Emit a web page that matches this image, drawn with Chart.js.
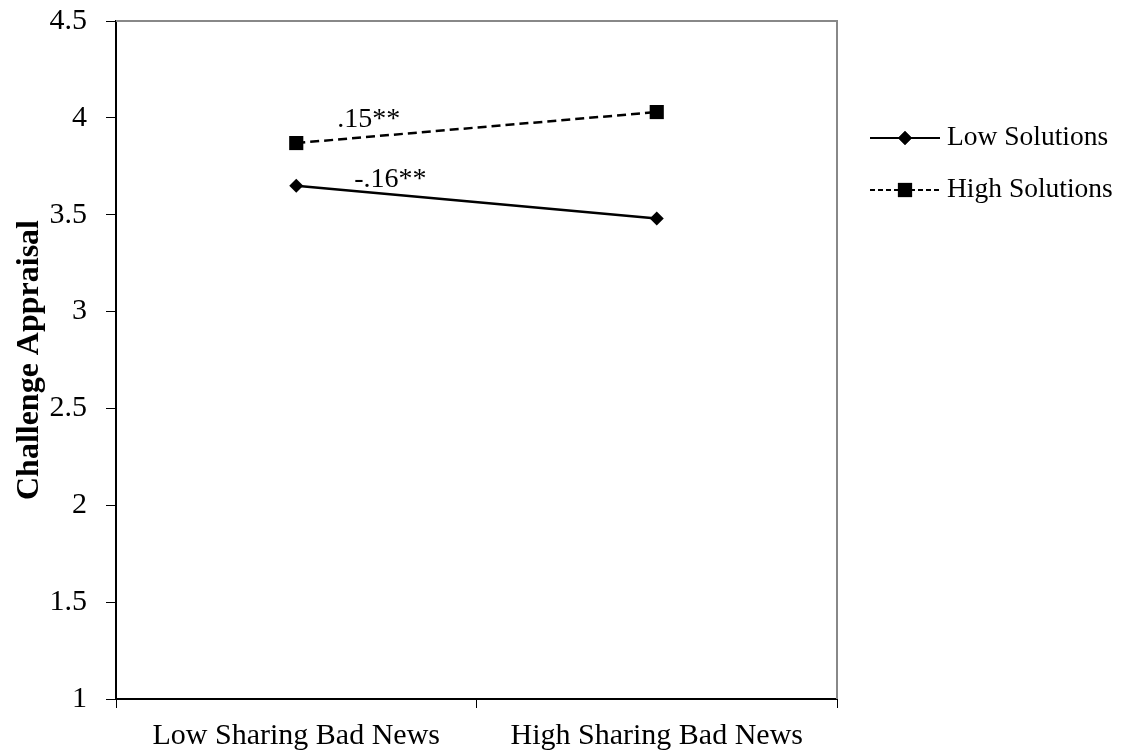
<!DOCTYPE html>
<html>
<head>
<meta charset="utf-8">
<script src="https://cdn.jsdelivr.net/npm/chart.js@4"></script>
<style>
  html, body { margin: 0; padding: 0; background: #fff; }
  #wrap { width: 1127px; height: 755px; position: relative; }
</style>
</head>
<body>
<div id="wrap"><canvas id="c" width="1127" height="755"></canvas></div>
<script>
// Simple-slopes plot: challenge appraisal by sharing bad news, split by solutions
const categories = ['Low Sharing Bad News', 'High Sharing Bad News'];
const lowSolutions = [3.65, 3.48];
const highSolutions = [3.87, 4.03];
const seriesNames = ['Low Solutions', 'High Solutions'];
const slopeLabels = ['-.16**', '.15**'];
const yTitle = 'Challenge Appraisal';

const SERIF = '"Liberation Serif", "DejaVu Serif", serif';

// slope annotations written just above each line, offset from its first point
const slopeText = {
  id: 'slopeText',
  afterDatasetsDraw(chart) {
    const ctx = chart.ctx;
    const offsets = [[58, 1], [41, -16]];
    ctx.save();
    ctx.font = '28px ' + SERIF;
    ctx.fillStyle = '#000';
    ctx.textBaseline = 'alphabetic';
    ctx.textAlign = 'left';
    chart.data.datasets.forEach((ds, i) => {
      const p0 = chart.getDatasetMeta(i).data[0];
      ctx.fillText(slopeLabels[i], p0.x + offsets[i][0], p0.y + offsets[i][1]);
    });
    ctx.restore();
  }
};

// grey frame on the top and right of the plot area
const frame = {
  id: 'frame',
  beforeDatasetsDraw(chart) {
    const a = chart.chartArea, ctx = chart.ctx;
    ctx.save();
    ctx.strokeStyle = '#888';
    ctx.lineWidth = 2;
    ctx.beginPath();
    ctx.moveTo(a.left, a.top);
    ctx.lineTo(a.right, a.top);
    ctx.lineTo(a.right, a.bottom);
    ctx.stroke();
    ctx.restore();
  }
};

// legend on the right: line sample with marker, then series name
const sideLegend = {
  id: 'sideLegend',
  afterDraw(chart) {
    const ctx = chart.ctx;
    const a = chart.chartArea;
    const x0 = a.right + 33, x1 = x0 + 70, xm = (x0 + x1) / 2;
    const rows = [138, 190];
    const dashes = [[], [5, 3]];
    ctx.save();
    chart.data.datasets.forEach((ds, i) => {
      const y = rows[i];
      ctx.strokeStyle = '#000';
      ctx.lineWidth = 2;
      ctx.setLineDash(dashes[i]);
      ctx.beginPath();
      ctx.moveTo(x0, y);
      ctx.lineTo(x1, y);
      ctx.stroke();
      ctx.setLineDash([]);
      ctx.fillStyle = '#000';
      Chart.helpers.drawPoint(ctx, {
        pointStyle: ds.pointStyle,
        radius: ds.pointRadius,
        rotation: 0,
        borderWidth: 0
      }, xm, y);
      ctx.fill();
      ctx.font = '27.5px ' + SERIF;
      ctx.textBaseline = 'middle';
      ctx.textAlign = 'left';
      ctx.fillText(ds.label, x1 + 7, y);
    });
    ctx.restore();
  }
};

new Chart(document.getElementById('c'), {
  type: 'line',
  data: {
    labels: categories,
    datasets: [
      {
        label: seriesNames[0],
        data: lowSolutions,
        borderColor: '#000',
        backgroundColor: '#000',
        borderWidth: 2.5,
        pointStyle: 'rectRot',
        pointRadius: 7,
        pointBorderWidth: 0,
        tension: 0
      },
      {
        label: seriesNames[1],
        data: highSolutions,
        borderColor: '#000',
        backgroundColor: '#000',
        borderWidth: 2.5,
        borderDash: [9, 5],
        pointStyle: 'rect',
        pointRadius: 10,
        pointBorderWidth: 0,
        tension: 0
      }
    ]
  },
  options: {
    responsive: false,
    animation: false,
    devicePixelRatio: 1,
    layout: { padding: { left: 0, right: 290, top: 21, bottom: 0 } },
    plugins: { legend: { display: false }, tooltip: { enabled: false } },
    scales: {
      x: {
        type: 'category',
        offset: true,
        grid: {
          offset: true,
          drawOnChartArea: false,
          drawTicks: true,
          tickLength: 9,
          color: '#000',
          lineWidth: 1
        },
        border: { display: true, color: '#000', width: 2 },
        ticks: {
          color: '#000',
          font: { family: SERIF, size: 30 },
          padding: 10,
          maxRotation: 0
        },
        afterFit(s) {
          s.height = 56;
          s.paddingLeft = 0;
          s.paddingRight = 0;
        }
      },
      y: {
        min: 1,
        max: 4.5,
        ticks: {
          stepSize: 0.5,
          color: '#000',
          font: { family: SERIF, size: 30 },
          padding: 19,
          callback: (v) => String(v)
        },
        grid: {
          drawOnChartArea: false,
          drawTicks: true,
          tickLength: 10,
          color: '#000',
          lineWidth: 1
        },
        border: { display: true, color: '#000', width: 2 },
        title: {
          display: true,
          text: yTitle,
          color: '#000',
          font: { family: SERIF, size: 32, weight: 'bold' },
          padding: { top: 11, bottom: 0 }
        },
        afterFit(s) {
          s.width = 116;
          s.paddingTop = 0;
          s.paddingBottom = 0;
        }
      }
    }
  },
  plugins: [frame, slopeText, sideLegend]
});
</script>
</body>
</html>
